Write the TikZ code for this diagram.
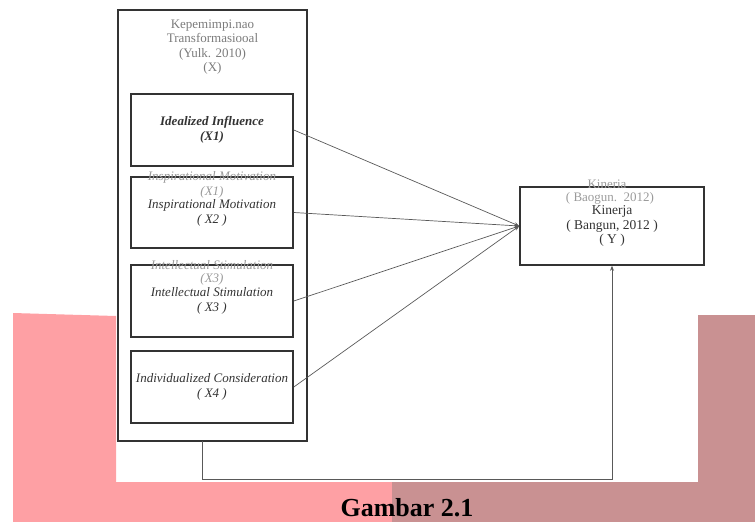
\documentclass[tikz,border=0pt]{standalone}
\usepackage{fontspec}
\setmainfont{Liberation Serif}
\usetikzlibrary{arrows.meta}
\definecolor{pinkbg}{HTML}{FEA0A4}
\definecolor{rosebg}{HTML}{C99192}
\definecolor{boxline}{HTML}{333333}
\definecolor{ghost}{HTML}{9A9A9A}
\begin{document}
\begin{tikzpicture}[x=1pt,y=-1pt,
  box/.style={draw=boxline, line width=1.6pt, minimum width=162pt, minimum height=72pt, inner sep=0pt, align=center, text=boxline, font=\fontsize{13}{15}\selectfont\itshape},
  ghosttxt/.style={text=ghost, inner sep=0pt, font=\fontsize{13}{15}\selectfont\itshape},
  link/.style={draw=black!65, line width=0.7pt, -{Stealth[length=5pt,width=4pt]}}]
\useasboundingbox (0,0) rectangle (755,522);
% backdrop
\fill[pinkbg] (13,313) -- (116,316) -- (116,482) -- (392,482) -- (392,522) -- (13,522) -- cycle;
\fill[rosebg] (392,482) -- (698,482) -- (698,315) -- (755,315) -- (755,522) -- (392,522) -- cycle;
% leadership block
\node[draw=boxline, line width=1.4pt, minimum width=189pt, minimum height=431pt] (X) at (212.5,225.5){};
\node[text=ghost!80!black, align=center, font=\fontsize{13}{14.6}\selectfont] (xtitle) at (212.5,47){Kepemimpi.nao\\Transformasiooal\\(Yulk. 2010)\\(X)};
\node[box, font=\fontsize{13}{15}\selectfont\bfseries\itshape] (x1) at (212,130){Idealized Influence\\(X1)};
\node[box, minimum height=71pt] (x2) at (212,212.5){Inspirational Motivation\\( X2 )};
\node[box] (x3) at (212,301){Intellectual Stimulation\\( X3 )};
\node[box] (x4) at (212,387){Individualized Consideration\\( X4 )};
\node[ghosttxt] (g2a) at (212,177){Inspirational Motivation};
\node[ghosttxt] (g2b) at (212,192){(X1)};
\node[ghosttxt] (g3a) at (212,265){Intellectual Stimulation};
\node[ghosttxt] (g3b) at (212,279){(X3)};
% performance
\node[draw=boxline, line width=1.6pt, minimum width=184pt, minimum height=78pt, inner sep=0pt, align=center, text=boxline, font=\fontsize{13.5}{14.5}\selectfont] (Y) at (612,226){Kinerja\\( Bangun, 2012 )\\( Y )};
\node[ghosttxt, font=\fontsize{13}{15}\selectfont] (g4a) at (607,184){Kineria};
\node[ghosttxt, font=\fontsize{13}{15}\selectfont] (g4b) at (610,198){( Baogun.\ \ 2012)};
\draw[link](x1.east) -- (Y.west);
\draw[link](x2.east) -- (Y.west);
\draw[link](x3.east) -- (Y.west);
\draw[link](x4.east) -- (Y.west);
\coordinate (xout) at (202,441);
\coordinate (turn) at (202,479);
\draw[link](xout) -- (turn) -| (Y.south);
\node[anchor=base, font=\fontsize{26}{30}\selectfont\bfseries] (cap) at (407,516){Gambar 2.1};
\end{tikzpicture}
\end{document}
